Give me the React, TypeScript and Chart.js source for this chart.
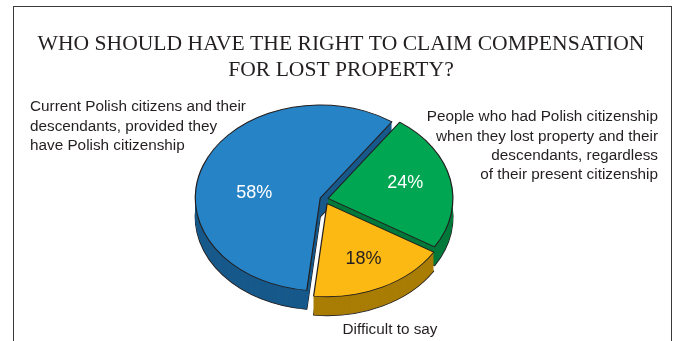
import React, { useEffect, useRef } from "react";
import { Chart, registerables } from "chart.js";

Chart.register(...registerables);

// Survey answers, clockwise from the upper right of the pie
const categories = [
  "People who had Polish citizenship when they lost property and their descendants, regardless of their present citizenship",
  "Difficult to say",
  "Current Polish citizens and their descendants, provided they have Polish citizenship",
];
const shares = [24, 18, 58];

const topColors = ["#00a651", "#fdb913", "#2683c6"];
const sideColors = ["#00793b", "#a97d04", "#17598b"];
const valueColors = ["#ffffff", "#231f20", "#ffffff"];

const titleLines = ["WHO SHOULD HAVE THE RIGHT TO CLAIM COMPENSATION", "FOR LOST PROPERTY?"];
const calloutLines = [
  ["People who had Polish citizenship", "when they lost property and their", "descendants, regardless", "of their present citizenship"],
  ["Difficult to say"],
  ["Current Polish citizens and their", "descendants, provided they", "have Polish citizenship"],
];

// Drawing constants
const W = 677;
const H = 341;
const TILT = 0.744; // vertical squash of the pie disc
const DEPTH = 19; // thickness of the disc in px
const EXPLODE = [4, 7, 4]; // how far each slice is pulled out
const EDGE = "#231f20";
const EDGE_W = 1.2;
const SANS = '"Liberation Sans", Arial, sans-serif';
const SERIF = '"Liberation Serif", "Times New Roman", serif';
// value label placement: fraction of radius and angle nudge (deg)
const VALUE_POS = [
  { r: 0.64, nudge: -3 },
  { r: 0.66, nudge: 0 },
  { r: 0.53, nudge: -15 },
];
const CALLOUTS: { x: number; y: number; align: CanvasTextAlign }[] = [
  { x: 658, y: 117, align: "right" },
  { x: 390, y: 330, align: "center" },
  { x: 30, y: 107, align: "left" },
];
const LINE_H = 19.3;

const pie3d = {
  id: "pie3d",
  beforeDatasetsDraw(chart: any) {
    const ctx: CanvasRenderingContext2D = chart.ctx;
    const arcs = chart.getDatasetMeta(0).data;
    if (!arcs.length) return false;
    const cx = arcs[0].x;
    const cy = arcs[0].y;

    const paint = (i: number, lift: number, fill: string, border: boolean) => {
      const arc = arcs[i];
      const mid = (arc.startAngle + arc.endAngle) / 2;
      const e = EXPLODE[i];
      ctx.save();
      ctx.translate(cx, cy + lift);
      ctx.scale(1, TILT);
      ctx.translate(-cx, -cy);
      ctx.translate(Math.cos(mid) * e, Math.sin(mid) * e);
      const saved = arc.options;
      arc.options = {
        ...saved,
        backgroundColor: fill,
        borderColor: EDGE,
        borderWidth: border ? EDGE_W : 0,
        offset: 0,
      };
      arc.draw(ctx);
      arc.options = saved;
      ctx.restore();
    };

    const order = [2, 0, 1]; // back to front
    for (const i of order) {
      for (let d = DEPTH; d >= 1; d--) paint(i, d, sideColors[i], d === DEPTH);
    }
    for (const i of order) paint(i, 0, topColors[i], true);
    return false;
  },
  afterDraw(chart: any) {
    const ctx: CanvasRenderingContext2D = chart.ctx;
    const arcs = chart.getDatasetMeta(0).data;
    ctx.save();
    ctx.font = `18px ${SANS}`;
    ctx.textAlign = "center";
    ctx.textBaseline = "middle";
    arcs.forEach((arc: any, i: number) => {
      const mid = (arc.startAngle + arc.endAngle) / 2;
      const a = mid + (VALUE_POS[i].nudge * Math.PI) / 180;
      const rr = arc.outerRadius * VALUE_POS[i].r;
      const x = arc.x + Math.cos(mid) * EXPLODE[i] + Math.cos(a) * rr;
      const y = arc.y + TILT * (Math.sin(mid) * EXPLODE[i] + Math.sin(a) * rr);
      ctx.fillStyle = valueColors[i];
      ctx.fillText(`${shares[i]}%`, x, y);
    });
    ctx.restore();
  },
};

const frameAndText = {
  id: "frameAndText",
  beforeDraw(chart: any) {
    const ctx: CanvasRenderingContext2D = chart.ctx;
    ctx.save();
    ctx.fillStyle = "#ffffff";
    ctx.fillRect(0, 0, W, H);
    ctx.strokeStyle = "#3a3a3a";
    ctx.lineWidth = 1;
    ctx.strokeRect(13.5, 6.5, 658, H + 20);
    ctx.restore();
  },
  afterDraw(chart: any) {
    const ctx: CanvasRenderingContext2D = chart.ctx;
    ctx.save();
    ctx.fillStyle = EDGE;
    ctx.textBaseline = "middle";
    ctx.textAlign = "center";
    ctx.font = `21.6px ${SERIF}`;
    titleLines.forEach((t, k) => ctx.fillText(t, 341, 44 + k * 26));

    ctx.font = `15.3px ${SANS}`;
    calloutLines.forEach((lines, i) => {
      const c = CALLOUTS[i];
      ctx.textAlign = c.align;
      lines.forEach((t, k) => ctx.fillText(t, c.x, c.y + k * LINE_H));
    });
    ctx.restore();
  },
};

export default function App() {
  const canvasRef = useRef<HTMLCanvasElement | null>(null);

  useEffect(() => {
    const canvas = canvasRef.current;
    if (!canvas) return;
    const chart = new Chart(canvas, {
      type: "pie",
      data: {
        labels: categories,
        datasets: [
          {
            data: shares,
            backgroundColor: topColors,
            borderColor: EDGE,
            borderWidth: EDGE_W,
          },
        ],
      },
      options: {
        responsive: false,
        animation: false,
        events: [],
        rotation: 35,
        radius: 125,
        layout: { padding: { left: 0, right: 29, top: 57, bottom: 0 } },
        plugins: {
          legend: { display: false },
          tooltip: { enabled: false },
        },
      } as any,
      plugins: [frameAndText, pie3d],
    });
    return () => chart.destroy();
  }, []);

  return (
    <div style={{ position: "fixed", left: 0, top: 0, width: W, height: H, background: "#fff" }}>
      <canvas ref={canvasRef} width={W} height={H} style={{ width: W, height: H, display: "block" }} />
    </div>
  );
}
